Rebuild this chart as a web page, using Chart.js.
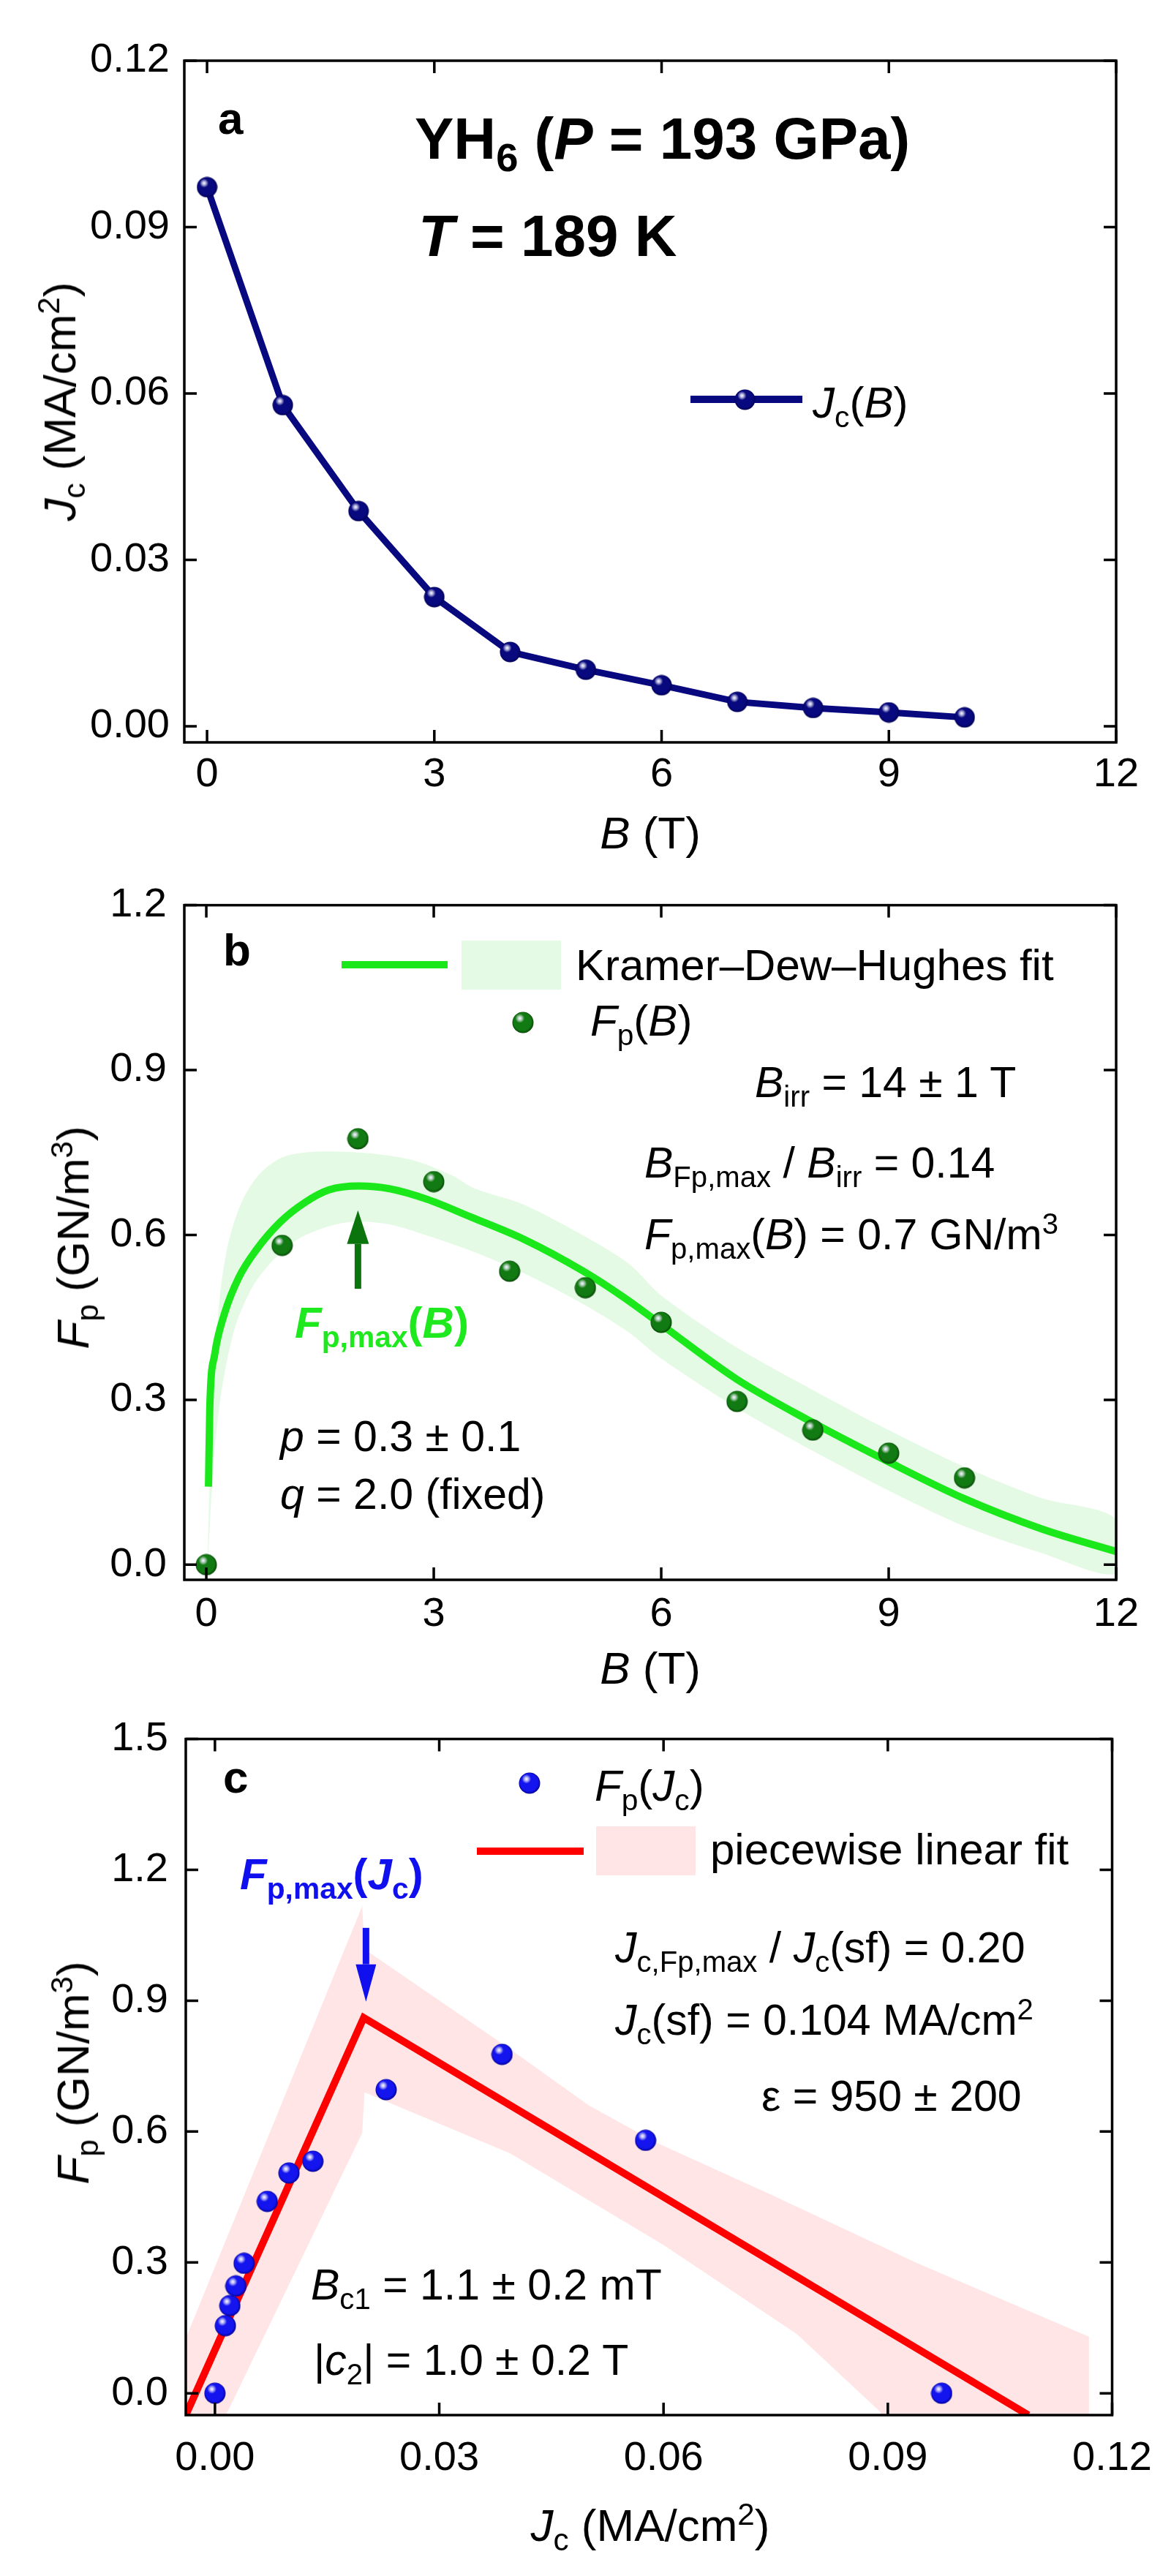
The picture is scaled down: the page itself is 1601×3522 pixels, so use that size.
<!DOCTYPE html>
<html>
<head>
<meta charset="utf-8">
<title>YH6 critical current and pinning force</title>
<script src="https://cdn.jsdelivr.net/npm/chart.js@4.4.1/dist/chart.umd.min.js"></script>
<style>
  html, body { margin: 0; padding: 0; background: #fff; }
  #page { position: relative; width: 1601px; height: 3522px; overflow: hidden;
          font-family: "Liberation Sans", Arial, Helvetica, sans-serif; color: #000; }
  #page canvas { position: absolute; left: 0; }
  .t { position: absolute; white-space: nowrap; line-height: 1; }
  .t sub { font-size: 0.68em; vertical-align: -0.32em; line-height: 0; }
  .t sup { font-size: 0.68em; vertical-align: 0.52em; line-height: 0; }
</style>
</head>
<body>
<div id="page">
  <canvas id="chartA" width="1601" height="1180" style="top:0px"></canvas>
  <canvas id="chartB" width="1601" height="1160" style="top:1180px"></canvas>
  <canvas id="chartC" width="1601" height="1202" style="top:2320px"></canvas>
</div>
<script>
/*** DATA ***/
// panel a : Jc(B)
const bField = [0, 1, 2, 3, 4, 5, 6, 7, 8, 9, 10];
const jcVals = [0.0972, 0.0579, 0.0388, 0.0233, 0.0134, 0.0102, 0.0074, 0.0044, 0.0033, 0.0025, 0.0016];

// panel b : Fp(B) and Kramer-Dew-Hughes fit
const fpVals = [0.0, 0.581, 0.775, 0.697, 0.534, 0.504, 0.441, 0.297, 0.245, 0.203, 0.158];
const kdhB = [0.029, 0.045, 0.11, 0.24, 0.43, 0.66, 0.98, 1.30, 1.62, 2.01, 2.42, 2.91, 3.5, 4.19, 4.96, 5.5, 6.0, 6.99, 7.98, 9.0, 10.0, 11.02, 12.0];
const kdhF = [0.142, 0.281, 0.382, 0.457, 0.523, 0.573, 0.624, 0.659, 0.682, 0.689, 0.684, 0.665, 0.632, 0.592, 0.535, 0.487, 0.437, 0.338, 0.260, 0.187, 0.120, 0.065, 0.024];
const kdhUpB = [0.019, 0.051, 0.094, 0.174, 0.286, 0.463, 0.69, 0.98, 1.30, 1.68, 2.26, 2.75, 3.23, 3.55, 4.19, 4.96, 5.57, 6.0, 7.0, 8.0, 9.0, 10.0, 11.0, 12.0];
const kdhUpF = [0.029, 0.180, 0.332, 0.483, 0.583, 0.659, 0.709, 0.740, 0.750, 0.752, 0.747, 0.735, 0.709, 0.684, 0.655, 0.600, 0.548, 0.490, 0.395, 0.318, 0.245, 0.178, 0.122, 0.083];
const kdhLoB = [12.0, 11.0, 10.0, 9.0, 8.0, 7.0, 6.0, 5.57, 4.96, 4.19, 3.55, 2.91, 2.42, 1.94, 1.62, 1.23, 0.91, 0.62, 0.38, 0.22, 0.125, 0.07, 0.022];
const kdhLoF = [-0.016, 0.022, 0.070, 0.135, 0.207, 0.285, 0.375, 0.423, 0.475, 0.530, 0.568, 0.599, 0.619, 0.624, 0.616, 0.594, 0.558, 0.508, 0.432, 0.332, 0.231, 0.130, 0.009];

// panel c : Fp(Jc) and piecewise linear fit
const fpJcX = [0.0, 0.0014, 0.0020, 0.0028, 0.0039, 0.0070, 0.0099, 0.0131, 0.0229, 0.0384, 0.0576, 0.0972];
const fpJcY = [0.0, 0.155, 0.201, 0.246, 0.298, 0.440, 0.505, 0.532, 0.696, 0.777, 0.580, 0.0];
const fitJc = [-0.0039, 0.0199, 0.1088];
const fitFp = [-0.05, 0.861, -0.05];
const pwUpX = [-0.0039, 0.0197, 0.0200, 0.0394, 0.050, 0.059, 0.0743, 0.0941, 0.1169, 0.1169];
const pwUpY = [0.126, 1.117, 1.018, 0.790, 0.660, 0.575, 0.456, 0.297, 0.130, -0.06];
const pwLoX = [0.0894, 0.0889, 0.0778, 0.060, 0.0395, 0.0200, 0.0197, 0.0012, -0.0039];
const pwLoY = [-0.06, -0.041, 0.136, 0.340, 0.550, 0.690, 0.597, -0.06, -0.06];

// ticks
const bTicks = [0, 3, 6, 9, 12];
const jcTicksA = [0, 0.03, 0.06, 0.09, 0.12];
const fpTicksB = [0, 0.3, 0.6, 0.9, 1.2];
const jcTicksC = [0, 0.03, 0.06, 0.09, 0.12];
const fpTicksC = [0, 0.3, 0.6, 0.9, 1.2, 1.5];

/*** HELPERS ***/
Chart.defaults.font.family = '"Liberation Sans", Arial, Helvetica, sans-serif';
const page = document.getElementById('page');
const pts = (xs, ys) => xs.map((x, i) => ({ x: x, y: ys[i] }));

// shiny ball marker
function ball(d, base, dark) {
  const c = document.createElement('canvas');
  c.width = c.height = d;
  const g = c.getContext('2d');
  const r = d / 2;
  g.beginPath(); g.arc(r, r, r - 0.5, 0, Math.PI * 2);
  const body = g.createRadialGradient(r * 0.8, r * 0.7, r * 0.2, r, r, r);
  body.addColorStop(0, base); body.addColorStop(0.75, base); body.addColorStop(1, dark);
  g.fillStyle = body; g.fill();
  const hi = g.createRadialGradient(r * 0.72, r * 0.62, 0, r * 0.72, r * 0.62, r * 0.42);
  hi.addColorStop(0, 'rgba(255,255,255,1)');
  hi.addColorStop(0.35, 'rgba(235,235,255,0.8)');
  hi.addColorStop(1, 'rgba(255,255,255,0)');
  g.fillStyle = hi; g.beginPath(); g.arc(r, r, r - 0.5, 0, Math.PI * 2); g.fill();
  return c;
}
const ballNavy = ball(29, '#08087f', '#00004a');
const ballGreen = ball(30, '#127a12', '#064006');
const ballBlue = ball(30, '#1414ee', '#000088');

// frame with inward ticks on all four sides
const boxTicks = {
  id: 'boxTicks',
  afterDraw(chart) {
    const { ctx, chartArea: a, scales } = chart;
    ctx.save();
    ctx.strokeStyle = '#000';
    ctx.lineWidth = 3.5;
    ctx.beginPath();
    scales.x.ticks.forEach(t => {
      const p = scales.x.getPixelForValue(t.value);
      ctx.moveTo(p, a.bottom); ctx.lineTo(p, a.bottom - 17);
      ctx.moveTo(p, a.top); ctx.lineTo(p, a.top + 17);
    });
    scales.y.ticks.forEach(t => {
      const p = scales.y.getPixelForValue(t.value);
      ctx.moveTo(a.left, p); ctx.lineTo(a.left + 17, p);
      ctx.moveTo(a.right, p); ctx.lineTo(a.right - 17, p);
    });
    ctx.stroke();
    ctx.strokeRect(a.left, a.top, a.right - a.left, a.bottom - a.top);
    ctx.restore();
  }
};

// vertical arrow pointing at the maximum
const arrow = {
  id: 'arrow',
  afterDatasetsDraw(chart, args, o) {
    if (!o || o.at === undefined) return;
    const { ctx, scales } = chart;
    const px = scales.x.getPixelForValue(o.at);
    const y0 = scales.y.getPixelForValue(o.from);
    const y1 = scales.y.getPixelForValue(o.to);
    const dir = Math.sign(y1 - y0);
    ctx.save();
    ctx.strokeStyle = o.col; ctx.fillStyle = o.col; ctx.lineWidth = o.lw;
    ctx.beginPath(); ctx.moveTo(px, y0); ctx.lineTo(px, y1 - dir * o.head); ctx.stroke();
    ctx.beginPath();
    ctx.moveTo(px, y1);
    ctx.lineTo(px - o.half, y1 - dir * o.head);
    ctx.lineTo(px + o.half, y1 - dir * o.head);
    ctx.closePath(); ctx.fill();
    ctx.restore();
  }
};

const tickFont = { size: 56 };
function axes(o) {
  return {
    x: {
      type: 'linear', min: o.xMin, max: o.xMax,
      afterBuildTicks: s => { s.ticks = o.xTicks.map(v => ({ value: v })); },
      afterFit: s => { s.height = o.bottom; },
      grid: { display: false, drawTicks: false, tickLength: 0 },
      border: { display: false },
      ticks: { font: tickFont, color: '#000', padding: o.xPad, maxRotation: 0, autoSkip: false,
               callback: v => v.toFixed(o.xDec) }
    },
    y: {
      type: 'linear', min: o.yMin, max: o.yMax,
      afterBuildTicks: s => { s.ticks = o.yTicks.map(v => ({ value: v })); },
      afterFit: s => { s.width = o.left; },
      grid: { display: false, drawTicks: false, tickLength: 0 },
      border: { display: false },
      ticks: { font: tickFont, color: '#000', padding: o.yPad, autoSkip: false,
               callback: v => v.toFixed(o.yDec) }
    }
  };
}

function baseOptions(o, arrowOpts) {
  return {
    responsive: false,
    animation: false,
    events: [],
    layout: { padding: { top: o.top, right: 75, left: 0, bottom: 0 } },
    scales: axes(o),
    plugins: { legend: { display: false }, tooltip: { enabled: false }, arrow: arrowOpts || {} }
  };
}

/*** PANEL A ***/
new Chart(document.getElementById('chartA'), {
  type: 'scatter',
  data: {
    datasets: [{
      data: pts(bField, jcVals),
      showLine: true,
      borderColor: '#08087f',
      borderWidth: 9,
      tension: 0,
      pointStyle: ballNavy,
      pointRadius: 14
    }]
  },
  options: baseOptions({ top: 83, left: 252, bottom: 165, xMin: -0.3, xMax: 12, yMin: -0.0029, yMax: 0.12,
                         xTicks: bTicks, yTicks: jcTicksA, xDec: 0, yDec: 2, xPad: 11, yPad: 20 }),
  plugins: [boxTicks, arrow]
});

/*** PANEL B ***/
new Chart(document.getElementById('chartB'), {
  type: 'scatter',
  data: {
    datasets: [{
      data: pts(bField, fpVals),
      pointStyle: ballGreen,
      pointRadius: 15
    }, {
      data: pts(kdhB, kdhF),
      showLine: true,
      borderColor: '#1ae81a',
      borderWidth: 10,
      cubicInterpolationMode: 'monotone',
      pointRadius: 0,
      clip: 0
    }, {
      data: pts(kdhUpB, kdhUpF).concat(pts(kdhLoB, kdhLoF)),
      showLine: true,
      borderWidth: 0,
      borderColor: 'rgba(0,0,0,0)',
      backgroundColor: 'rgba(0,205,0,0.1)',
      fill: 'shape',
      tension: 0.3,
      pointRadius: 0,
      clip: 0
    }]
  },
  options: baseOptions({ top: 44, left: 252, bottom: 180, xMin: -0.29, xMax: 12, yMin: -0.0275, yMax: 1.2,
                         xTicks: bTicks, yTicks: fpTicksB, xDec: 0, yDec: 1, xPad: 14, yPad: 24 },
                       { at: 2.0, from: 0.502, to: 0.645, col: '#0c740c', lw: 9, head: 46, half: 15 }),
  plugins: [boxTicks, arrow]
});

/*** PANEL C ***/
new Chart(document.getElementById('chartC'), {
  type: 'scatter',
  data: {
    datasets: [{
      data: pts(fpJcX, fpJcY),
      pointStyle: ballBlue,
      pointRadius: 15
    }, {
      data: pts(fitJc, fitFp),
      showLine: true,
      borderColor: '#ff0000',
      borderWidth: 10,
      tension: 0,
      pointRadius: 0,
      clip: 0
    }, {
      data: pts(pwUpX, pwUpY).concat(pts(pwLoX, pwLoY)),
      showLine: true,
      borderWidth: 0,
      borderColor: 'rgba(0,0,0,0)',
      backgroundColor: 'rgba(255,0,0,0.1)',
      fill: 'shape',
      tension: 0,
      pointRadius: 0,
      clip: 0
    }]
  },
  options: baseOptions({ top: 47, left: 254, bottom: 220, xMin: -0.0039, xMax: 0.12, yMin: -0.05, yMax: 1.5,
                         xTicks: jcTicksC, yTicks: fpTicksC, xDec: 2, yDec: 1, xPad: 26, yPad: 24 },
                       { at: 0.0202, from: 1.067, to: 0.898, col: '#1010ee', lw: 9, head: 51, half: 14 }),
  plugins: [boxTicks, arrow]
});

/*** TEXT OVERLAYS ***/
function put(html, x, base, size, extra) {
  const d = document.createElement('div');
  d.className = 't';
  d.innerHTML = html;
  d.style.fontSize = size + 'px';
  d.style.left = x + 'px';
  d.style.top = (base - 0.8465 * size) + 'px';
  if (extra) Object.assign(d.style, extra);
  page.appendChild(d);
  return d;
}
function centered(html, cx, base, size) {
  return put(html, cx, base, size, { transform: 'translateX(-50%)' });
}
function vertical(html, cx, cy, size) {
  const d = put(html, cx, cy, size);
  d.style.top = cy + 'px';
  d.style.transform = 'translate(-50%, -50%) rotate(-90deg)';
  return d;
}
function box(x, y, w, h, color) {
  const d = document.createElement('div');
  Object.assign(d.style, { position: 'absolute', left: x + 'px', top: y + 'px', width: w + 'px',
                           height: h + 'px', background: color });
  page.appendChild(d);
}
function marker(d, base, dark, cx, cy) {
  const c = ball(d, base, dark);
  c.style.left = (cx - d / 2) + 'px';
  c.style.top = (cy - d / 2) + 'px';
  page.appendChild(c);
}

const bold = { fontWeight: 'bold' };

// panel a
put('a', 298, 183, 62, bold);
put('YH<sub>6</sub> (<i>P</i> = 193 GPa)', 567, 218, 80, bold);
put('<i>T</i> = 189 K', 572, 351, 80, bold);
box(944, 541, 153, 10, '#08087f');
marker(29, '#08087f', '#00004a', 1018, 546);
put('<i>J</i><sub>c</sub>(<i>B</i>)', 1111, 572, 60);
centered('<i>B</i> (T)', 889, 1160, 62);
vertical('<i>J</i><sub>c</sub> (MA/cm<sup>2</sup>)', 82, 549, 62);

// panel b
put('b', 305, 1320, 62, bold);
box(467, 1314, 145, 10, '#1ae81a');
box(631, 1286, 136, 67, 'rgba(0,205,0,0.1)');
put('Kramer–Dew–Hughes fit', 787, 1341, 60);
marker(30, '#127a12', '#064006', 715, 1398);
put('<i>F</i><sub>p</sub>(<i>B</i>)', 807, 1417, 60);
put('<i>B</i><sub>irr</sub> = 14 ± 1 T', 1032, 1501, 59);
put('<i>B</i><sub>Fp,max</sub> / <i>B</i><sub>irr</sub> = 0.14', 881, 1611, 59);
put('<i>F</i><sub>p,max</sub>(<i>B</i>) = 0.7 GN/m<sup>3</sup>', 881, 1709, 59);
put('<i>F</i><sub>p,max</sub>(<i>B</i>)', 403, 1830, 60, { fontWeight: 'bold', color: '#1ee81e' });
put('<i>p</i> = 0.3 ± 0.1', 383, 1985, 59);
put('<i>q</i> = 2.0 (fixed)', 383, 2064, 59);
centered('<i>B</i> (T)', 889, 2302, 62);
vertical('<i>F</i><sub>p</sub> (GN/m<sup>3</sup>)', 100, 1692, 62);

// panel c
put('c', 305, 2451, 62, bold);
marker(30, '#1414ee', '#000088', 724, 2438);
put('<i>F</i><sub>p</sub>(<i>J</i><sub>c</sub>)', 813, 2463, 60);
box(652, 2526, 146, 10, '#ff0000');
box(815, 2497, 136, 67, 'rgba(255,0,0,0.1)');
put('piecewise linear fit', 971, 2550, 60);
put('<i>F</i><sub>p,max</sub>(<i>J</i><sub>c</sub>)', 328, 2584, 60, { fontWeight: 'bold', color: '#1010ee' });
put('<i>J</i><sub>c,Fp,max</sub> / <i>J</i><sub>c</sub>(sf) = 0.20', 841, 2684, 59);
put('<i>J</i><sub>c</sub>(sf) = 0.104 MA/cm<sup>2</sup>', 841, 2783, 59);
put('ε = 950 ± 200', 1041, 2887, 59);
put('<i>B</i><sub>c1</sub> = 1.1 ± 0.2 mT', 425, 3145, 59);
put('|<i>c</i><sub>2</sub>| = 1.0 ± 0.2 T', 429, 3248, 59);
centered('<i>J</i><sub>c</sub> (MA/cm<sup>2</sup>)', 889, 3474, 62);
vertical('<i>F</i><sub>p</sub> (GN/m<sup>3</sup>)', 100, 2834, 62);
</script>
</body>
</html>
